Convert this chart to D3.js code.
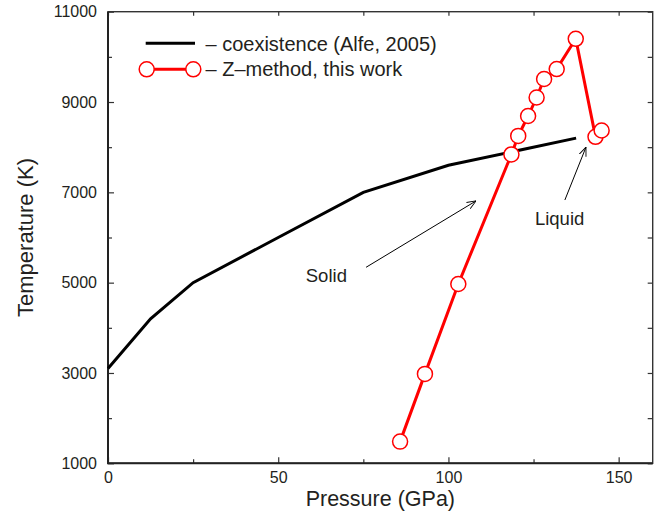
<!DOCTYPE html>
<html>
<head>
<meta charset="utf-8">
<script src="https://cdn.jsdelivr.net/npm/d3@7"></script>
<style>
  body { margin: 0; background: #fff; }
  text { font-family: "Liberation Sans", Arial, Helvetica, sans-serif; fill: #231f20; }
</style>
</head>
<body>
<div id="chart"></div>
<script>
// data
const alfeP = [0, 12.5, 25, 50, 75, 100, 137.5];
const alfeT = [3100, 4200, 5000, 6000, 7000, 7600, 8200];

const zP = [85.8, 93.1, 102.9, 118.5, 120.5, 123.4, 125.9, 128.1, 131.8, 137.4, 143.2, 145.0];
const zT = [1480, 2980, 4970, 7840, 8250, 8690, 9100, 9510, 9730, 10400, 8230, 8370];

const xTicks = [0, 50, 100, 150];
const xMinor = [25, 75, 125];
const yTicks = [1000, 3000, 5000, 7000, 9000, 11000];
const yMinor = [2000, 4000, 6000, 8000, 10000];

const legendLabels = ["\u2013 coexistence (Alfe, 2005)", "\u2013 Z\u2013method, this work"];

// 1. size and margins
const W = 660, H = 511;
const margin = { top: 11.7, right: 7.3, bottom: 47.7, left: 108 };
const width = W - margin.left - margin.right,
  height = H - margin.top - margin.bottom;

const svg = d3.select("#chart")
  .append("svg")
  .attr("width", W)
  .attr("height", H);

const g = svg.append("g")
  .attr("transform", `translate(${margin.left}, ${margin.top})`);

// 2. scales
const x = d3.scaleLinear().domain([0, 160]).range([0, width]);
const y = d3.scaleLinear().domain([1000, 11000]).range([height, 0]);

// 3. axes, ticks pointing inward on all four sides
const axisColor = "#333";
g.append("g")
  .attr("transform", `translate(0, ${height})`)
  .call(d3.axisBottom(x).tickValues(xTicks).tickSize(-6).tickPadding(8).tickFormat(d3.format("d")))
  .call(a => a.select(".domain").remove());
g.append("g")
  .attr("transform", `translate(0, ${height})`)
  .call(d3.axisBottom(x).tickValues(xMinor).tickSize(-4).tickFormat(""))
  .call(a => a.select(".domain").remove());
g.append("g")
  .call(d3.axisTop(x).tickValues(xTicks.concat(xMinor)).tickSize(-4).tickFormat(""))
  .call(a => a.select(".domain").remove());

g.append("g")
  .call(d3.axisLeft(y).tickValues(yTicks).tickSize(-6).tickPadding(11).tickFormat(d3.format("d")))
  .call(a => a.select(".domain").remove());
g.append("g")
  .call(d3.axisLeft(y).tickValues(yMinor).tickSize(-4).tickFormat(""))
  .call(a => a.select(".domain").remove());
g.append("g")
  .attr("transform", `translate(${width}, 0)`)
  .call(d3.axisRight(y).tickValues(yTicks.concat(yMinor)).tickSize(-5).tickFormat(""))
  .call(a => a.select(".domain").remove());

g.selectAll(".tick line").attr("stroke", axisColor).attr("stroke-width", 1.2);
g.selectAll(".tick text").attr("font-size", 16).attr("fill", "#231f20")
  .style("font-family", "'Liberation Sans', Arial, sans-serif");

// frame
g.append("rect")
  .attr("width", width).attr("height", height)
  .attr("fill", "none").attr("stroke", axisColor).attr("stroke-width", 1.4);
g.append("path")
  .attr("d", `M0,0V${height}H${width}`)
  .attr("fill", "none").attr("stroke", "#222").attr("stroke-width", 2);

// axis titles
svg.append("text")
  .attr("x", margin.left + width / 2).attr("y", 505.5)
  .attr("text-anchor", "middle").attr("font-size", 21.5)
  .text("Pressure (GPa)");
svg.append("text")
  .attr("transform", `translate(33, ${margin.top + height / 2}) rotate(-90)`)
  .attr("text-anchor", "middle").attr("font-size", 22)
  .text("Temperature (K)");

// 4. lines
const line = d3.line().x(d => x(d[0])).y(d => y(d[1]));
const alfe = alfeP.map((p, i) => [p, alfeT[i]]);
const zdata = zP.map((p, i) => [p, zT[i]]);

g.append("path").datum(alfe)
  .attr("d", line).attr("fill", "none")
  .attr("stroke", "#000").attr("stroke-width", 3);

g.append("path").datum(zdata)
  .attr("d", line).attr("fill", "none")
  .attr("stroke", "#ff0000").attr("stroke-width", 3);

g.selectAll(".zpt")
  .data(zdata)
  .enter()
  .append("circle")
  .attr("class", "zpt")
  .attr("cx", d => x(d[0])).attr("cy", d => y(d[1]))
  .attr("r", 7.5)
  .attr("fill", "#fff").attr("stroke", "#ff0000").attr("stroke-width", 1.5);

// 5. annotations with arrows (data units)
svg.append("defs").append("marker")
  .attr("id", "arr")
  .attr("viewBox", "0 0 10 10").attr("refX", 10).attr("refY", 5)
  .attr("markerWidth", 9).attr("markerHeight", 9)
  .attr("markerUnits", "userSpaceOnUse")
  .attr("orient", "auto")
  .append("path").attr("d", "M0,1 L10,5 L0,9")
  .attr("fill", "none").attr("stroke", "#000").attr("stroke-width", 1);

const notes = [
  { label: "Solid", tx: 58.1, ty: 5020, from: [75.8, 5340], to: [108.1, 6810] },
  { label: "Liquid", tx: 125.4, ty: 6280, from: [134.2, 6830], to: [140.4, 8000] }
];
notes.forEach(n => {
  g.append("line")
    .attr("x1", x(n.from[0])).attr("y1", y(n.from[1]))
    .attr("x2", x(n.to[0])).attr("y2", y(n.to[1]))
    .attr("stroke", "#000").attr("stroke-width", 1)
    .attr("marker-end", "url(#arr)");
  g.append("text")
    .attr("x", x(n.tx)).attr("y", y(n.ty))
    .attr("font-size", 18.5)
    .text(n.label);
});

// 6. legend
const leg = svg.append("g");
leg.append("line")
  .attr("x1", 145.7).attr("x2", 195).attr("y1", 43.3).attr("y2", 43.3)
  .attr("stroke", "#000").attr("stroke-width", 3);
leg.append("line")
  .attr("x1", 146.7).attr("x2", 193.3).attr("y1", 69.3).attr("y2", 69.3)
  .attr("stroke", "#ff0000").attr("stroke-width", 3);
[146.7, 193.3].forEach(cx => {
  leg.append("circle")
    .attr("cx", cx).attr("cy", 69.3).attr("r", 7.5)
    .attr("fill", "#fff").attr("stroke", "#ff0000").attr("stroke-width", 1.5);
});
leg.selectAll(".lt")
  .data(legendLabels)
  .enter()
  .append("text")
  .attr("x", 205.5).attr("y", (d, i) => 50.5 + i * 25)
  .attr("font-size", 20)
  .text(d => d);
</script>
</body>
</html>
